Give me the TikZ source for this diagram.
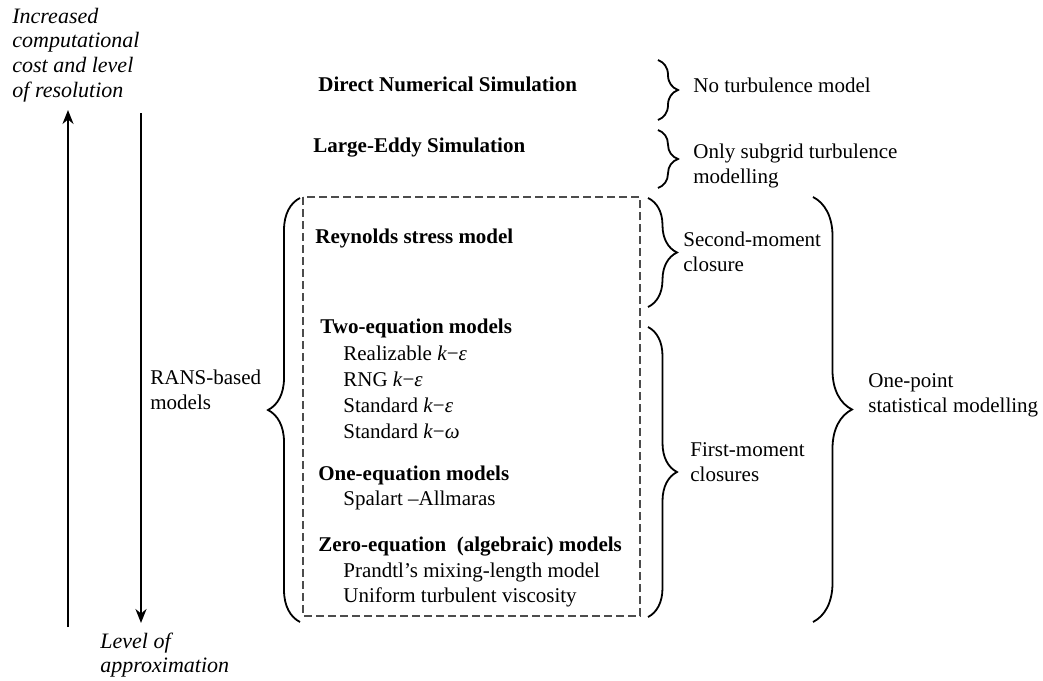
\documentclass[tikz,border=0pt]{standalone}
\usepackage{fontspec}
\setmainfont{Liberation Serif}
\usetikzlibrary{arrows.meta,decorations.pathreplacing}
\begin{document}
\begin{tikzpicture}[x=0.5pt,y=-0.5pt,
    txt/.style={anchor=west,inner sep=0pt,align=left,font=\fontsize{10.5}{12.5}\selectfont},
    hdr/.style={txt,font=\fontsize{10.5}{12.5}\selectfont\bfseries},
    axislbl/.style={anchor=west,inner sep=0pt,align=left,font=\fontsize{11}{12.4}\selectfont\itshape},
    axis/.style={line width=1pt,-{Stealth[length=7pt,width=5.5pt]}},
    brc/.style={decorate,decoration={brace,amplitude=#1},line width=0.9pt},
    brc/.default=10pt,
    dashbox/.style={draw=black!70,line width=0.6pt,dash pattern=on 4pt off 2pt}]
      \useasboundingbox (0,0) rectangle (1043,680);
      \node [axislbl] (cost) at (12,55) {Increased\\computational\\cost and level\\of resolution};
      \node [axislbl] (approx) at (100,655) {Level of\\approximation};
      \coordinate (upfoot) at (68,627);
      \coordinate (uptip) at (68,110);
      \coordinate (downfoot) at (141,113);
      \coordinate (downtip) at (141,623);
      \draw [axis] (upfoot) -- (uptip);
      \draw [axis] (downfoot) -- (downtip);
      \node [hdr] (dns) at (318,84) {Direct Numerical Simulation};
      \node [hdr] (les) at (313,148) {Large-Eddy Simulation};
      \draw [dashbox] (303,197) rectangle (640,616);
      \node [hdr] (rsm) at (315,238) {Reynolds stress model};
      \node [hdr] (twoeq) at (320,328) {Two-equation models};
      \node [txt] (realizable) at (343,353) {Realizable \textit{k}−\textit{ε}};
      \node [txt] (rng) at (343,379) {RNG \textit{k}−\textit{ε}};
      \node [txt] (stdke) at (343,405) {Standard \textit{k}−\textit{ε}};
      \node [txt] (stdkw) at (343,431) {Standard \textit{k}−\textit{ω}};
      \node [hdr] (oneeq) at (318,475) {One-equation models};
      \node [txt] (spalart) at (343,500) {Spalart –Allmaras};
      \node [hdr] (zeroeq) at (318,547) {Zero-equation\ \ (algebraic) models};
      \node [txt] (prandtl) at (343,572) {Prandtl’s mixing-length model};
      \node [txt] (uniform) at (343,597) {Uniform turbulent viscosity};
      \begin{scope}
        \coordinate (ransbot) at (300,622);
        \coordinate (ranstop) at (300,198);
        \draw [brc=16pt] (ransbot) -- (ranstop);
        \node [txt] (rans) at (150,390) {RANS-based\\ models};
      \end{scope}
      \begin{scope}
        \coordinate (dnstop) at (658,60);
        \coordinate (dnsbot) at (658,120);
        \draw [brc=10pt] (dnstop) -- (dnsbot);
        \node [txt] (nomodel) at (693,85) {No turbulence model};
        \coordinate (lestop) at (658,130);
        \coordinate (lesbot) at (658,188);
        \draw [brc=10pt] (lestop) -- (lesbot);
        \node [txt] (subgrid) at (693,166) {Only subgrid turbulence\\modelling};
      \end{scope}
      \begin{scope}
        \coordinate (sectop) at (648,198);
        \coordinate (secbot) at (648,307);
        \draw [brc=14.5pt] (sectop) -- (secbot);
        \node [txt] (second) at (683,252) {Second-moment\\ closure};
        \coordinate (firsttop) at (648,327);
        \coordinate (firstbot) at (648,617);
        \draw [brc=14.5pt] (firsttop) -- (firstbot);
        \node [txt] (first) at (690,462) {First-moment\\closures};
      \end{scope}
      \begin{scope}
        \coordinate (pointtop) at (813,197);
        \coordinate (pointbot) at (813,622);
        \draw [brc=19.5pt] (pointtop) -- (pointbot);
        \node [txt] (onepoint) at (868,395) {One-point\\statistical modelling};
      \end{scope}
    \end{tikzpicture}
\end{document}
